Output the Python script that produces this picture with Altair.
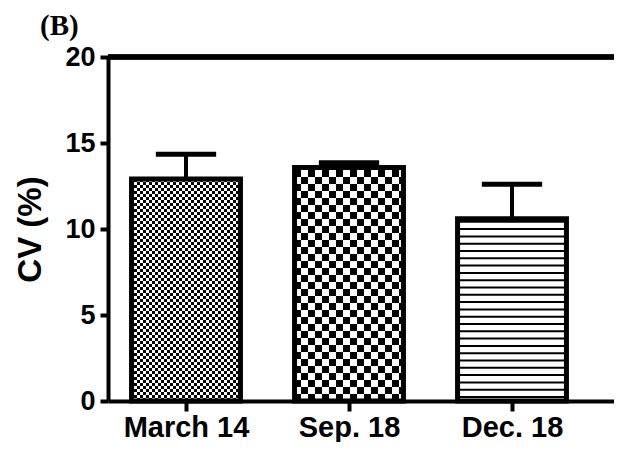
import json
import altair as alt
import pandas as pd

# ---- data ----
categories = ["March 14", "Sep. 18", "Dec. 18"]
cv_mean = [12.9, 13.57, 10.6]
cv_err = [1.45, 0.28, 2.0]
patterns = ["fine_checker", "coarse_checker", "hlines"]
y_ticks = [0, 5, 10, 15, 20]
y_title = "CV (%)"
panel_label = "(B)"

# ---- geometry / style constants ----
W, H = 506, 344
PXU_X = 163.0                  # pixels per category step
X0 = -78.0 / PXU_X             # domain start so first category sits 78px in
X1 = X0 + W / PXU_X
PXU_Y = H / 20.0
BAR_HALF = 0.334
CAP_HALF = 0.185


def xpx(v):
    return (v - X0) * PXU_X


def to_x(px):
    return X0 + px / PXU_X


def to_y(px):
    return px / PXU_Y


bars = pd.DataFrame({
    "idx": list(range(len(categories))),
    "name": categories,
    "mean": cv_mean,
    "err": cv_err,
})
bars["xl"] = bars["idx"] - BAR_HALF
bars["xr"] = bars["idx"] + BAR_HALF
bars["cl"] = bars["idx"] - CAP_HALF
bars["cr"] = bars["idx"] + CAP_HALF
bars["top"] = bars["mean"] + bars["err"]
bars["zero"] = 0.0
bars["lim"] = 20.0

# ---- fill patterns built from the bar extents ----
cells = []
for i, (m, pat) in enumerate(zip(cv_mean, patterns)):
    lpx = xpx(i - BAR_HALF)
    rpx = xpx(i + BAR_HALF)
    tpx = m * PXU_Y
    if pat in ("fine_checker", "coarse_checker"):
        c = 3 if pat == "fine_checker" else 7
        col = 0
        x = float(int(lpx))
        while x < rpx:
            row = 0
            y = 0.0
            while y < tpx:
                if (col + row) % 2 == 0:
                    cells.append({
                        "a": to_x(max(x, lpx)), "b": to_x(min(x + c, rpx)),
                        "c": to_y(y), "d": to_y(min(y + c, tpx)),
                    })
                y += c
                row += 1
            x += c
            col += 1
    else:
        y = 3.0
        while y + 2 < tpx:
            cells.append({"a": to_x(lpx), "b": to_x(rpx),
                          "c": to_y(y), "d": to_y(y + 2)})
            y += 7.3
cells = pd.DataFrame(cells)

FONT = "Liberation Sans"
xscale = alt.Scale(domain=[X0, X1], nice=False, zero=False)
yscale = alt.Scale(domain=[0, 20], nice=False, zero=False)

label_expr = json.dumps(categories) + "[datum.value]"

x_axis = alt.Axis(
    values=[0, 1, 2], labelExpr=label_expr, title="", grid=False,
    labelFont=FONT, labelFontSize=29, labelFontWeight="bold", labelColor="black",
    labelBaseline="alphabetic", labelPadding=25, labelOverlap=False, labelFlush=False,
    domainColor="black", domainWidth=4, tickColor="black", tickWidth=4, tickSize=10,
)
y_axis = alt.Axis(
    values=y_ticks, title=y_title, grid=False,
    labelFont=FONT, labelFontSize=27, labelFontWeight="bold", labelColor="black",
    labelPadding=5,
    domainColor="black", domainWidth=4, tickColor="black", tickWidth=4, tickSize=8,
    titleFont=FONT, titleFontSize=33, titleFontWeight="bold", titleColor="black",
    titleX=-68, titleBaseline="alphabetic",
)

pattern_layer = alt.Chart(cells).mark_rect(color="black", strokeWidth=0).encode(
    x=alt.X("a:Q", scale=xscale, axis=x_axis),
    x2="b:Q",
    y=alt.Y("c:Q", scale=yscale, axis=y_axis),
    y2="d:Q",
)

outline = alt.Chart(bars).mark_rect(
    fillOpacity=0, stroke="black", strokeWidth=5
).encode(
    x=alt.X("xl:Q", scale=xscale, axis=x_axis),
    x2="xr:Q",
    y=alt.Y("zero:Q", scale=yscale, axis=y_axis),
    y2="mean:Q",
)

err_stem = alt.Chart(bars).mark_rule(color="black", strokeWidth=4).encode(
    x=alt.X("idx:Q", scale=xscale, axis=x_axis),
    y=alt.Y("mean:Q", scale=yscale, axis=y_axis),
    y2="top:Q",
)

err_cap = alt.Chart(bars).mark_rule(color="black", strokeWidth=5).encode(
    x=alt.X("cl:Q", scale=xscale, axis=x_axis),
    x2="cr:Q",
    y=alt.Y("top:Q", scale=yscale, axis=y_axis),
)

top_line = alt.Chart(bars).mark_rule(color="black", strokeWidth=5).encode(
    x=alt.value(0),
    x2=alt.value(W),
    y=alt.Y("lim:Q", scale=yscale, axis=y_axis),
)

chart = alt.layer(pattern_layer, outline, err_stem, err_cap, top_line).properties(
    width=W, height=H,
    background="white",
    autosize=alt.AutoSizeParams(type="none"),
    padding={"left": 100, "top": 49, "right": 0, "bottom": 41},
    title=alt.TitleParams(
        panel_label, font="Liberation Serif", fontSize=29, fontWeight="bold",
        color="black", anchor="start", frame="group", dx=-68, dy=2,
    ),
).configure_view(strokeWidth=0)

chart.save("out.html", embed_options={"renderer": "svg", "actions": False})
